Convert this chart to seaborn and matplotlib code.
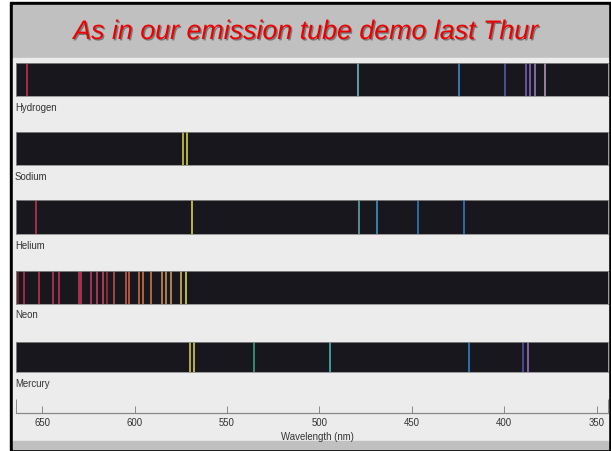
import numpy as np
import pandas as pd
import seaborn as sns
import matplotlib.pyplot as plt
import matplotlib.patheffects as pe
from matplotlib.patches import Rectangle

# =========================
# DATA (wavelengths in nm)
# =========================
elements = ["Hydrogen", "Sodium", "Helium", "Neon", "Mercury"]

hydrogen_nm = [658.1, 479.3, 424.3, 399.4, 388.2, 386.2, 383.4, 377.9]
hydrogen_colors = ["#c8324b", "#6fbcc4", "#3b8fcc", "#5a5cb4",
                   "#7a62b8", "#8a6cbc", "#9a80c4", "#b898c8"]

sodium_nm = [573.6, 571.9]
sodium_colors = ["#d8d23a", "#e0d848"]

helium_nm = [653.4, 569.0, 478.6, 469.0, 446.8, 421.9]
helium_colors = ["#c8324b", "#e0dc3c", "#5fa8b2", "#3b9ad0", "#2f82c4", "#2f7ec0"]

neon_nm = [663.1, 660.1, 651.5, 644.2, 640.9, 630.3, 628.8, 623.6, 620.4,
           617.1, 614.9, 610.9, 604.9, 602.8, 597.6, 595.6, 591.3, 585.2,
           583.2, 580.3, 574.9, 572.2]
neon_colors = ["#7a2030", "#c03050", "#c83452", "#c83452", "#c83452",
               "#c83a5a", "#c83a5a", "#c83a5a", "#c84058", "#c84858",
               "#a03040", "#c85048", "#d06040", "#d06840", "#d07040",
               "#d07848", "#d08048", "#d09050", "#d09858", "#c8a060",
               "#d8c060", "#e0e040"]

mercury_nm = [570.2, 568.0, 535.2, 494.5, 419.2, 390.0, 387.0]
mercury_colors = ["#d8d040", "#e0d848", "#3aa888", "#48bcbc", "#2e8ad2",
                  "#5a50b0", "#a070c0"]

tick_nm = [650, 600, 550, 500, 450, 400, 350]
x_range = (664.2, 344.0)

spectra = {
    "Hydrogen": (hydrogen_nm, hydrogen_colors),
    "Sodium": (sodium_nm, sodium_colors),
    "Helium": (helium_nm, helium_colors),
    "Neon": (neon_nm, neon_colors),
    "Mercury": (mercury_nm, mercury_colors),
}

# =========================
# STYLE
# =========================
sns.set_style("white")
plt.rcParams["font.family"] = ["Liberation Sans", "DejaVu Sans"]

W, H = 611, 452
fig = plt.figure(figsize=(W / 100, H / 100), dpi=100)
fig.patch.set_facecolor("white")


def px_rect(x0, y0, x1, y1):
    # pixel box (top-left origin) -> figure fraction
    return [x0 / W, 1 - y1 / H, (x1 - x0) / W, (y1 - y0) / H]


# slide frame (kept behind the axes)
fig.patches.append(Rectangle((10 / W, 0), 601 / W, 449 / H,
                             transform=fig.transFigure, color="black", zorder=-3))
fig.patches.append(Rectangle((13 / W, 1 - 59 / H), 595 / W, 53 / H,
                             transform=fig.transFigure, color="#c0c0c0", zorder=-2))
fig.patches.append(Rectangle((13 / W, 1 - 442 / H), 595 / W, 383 / H,
                             transform=fig.transFigure, color="#ececec", zorder=-2))
fig.patches.append(Rectangle((13 / W, 1 - 450 / H), 595 / W, 8 / H,
                             transform=fig.transFigure, color="#c0c0c0", zorder=-2))

fig.text(305 / W, 1 - 33 / H, "As in our emission tube demo last Thur",
         ha="center", va="center", fontsize=19.3, style="italic", color="#ee0000",
         path_effects=[pe.withSimplePatchShadow(offset=(1.0, -1.0),
                                                shadow_rgbFace="#333333", alpha=0.5)])

# =========================
# SPECTRUM BANDS
# =========================
bands_px = {
    "Hydrogen": (64.3, 96.7),
    "Sodium": (132.7, 165.7),
    "Helium": (201.3, 235.0),
    "Neon": (272.0, 304.5),
    "Mercury": (342.7, 373.3),
}

for name in elements:
    top, bot = bands_px[name]
    ax = fig.add_axes(px_rect(16, top, 607.7, bot))
    ax.set_facecolor("#17171d")
    nm, cols = spectra[name]
    df = pd.DataFrame({"nm": nm, "color": cols})
    sns.rugplot(data=df, x="nm", hue="color", palette={c: c for c in cols},
                height=1, linewidth=1.2, alpha=0.95, legend=False,
                expand_margins=False, ax=ax)
    ax.set_xlim(*x_range)
    ax.set_ylim(0, 1)
    ax.set_xticks([])
    ax.set_yticks([])
    ax.set_xlabel("")
    for s in ax.spines.values():
        s.set_color("#8a8a8a")
        s.set_linewidth(0.6)
    fig.text(15 / W, 1 - (bot + 11) / H, name, ha="left", va="center",
             fontsize=6.9, color="#333333")

# =========================
# WAVELENGTH AXIS
# =========================
axx = fig.add_axes(px_rect(16, 395, 607.7, 414))
axx.patch.set_alpha(0)
axx.set_xlim(*x_range)
axx.set_yticks([])
sns.despine(ax=axx, left=True, right=True, top=True)
axx.spines["bottom"].set_color("#888888")
axx.spines["bottom"].set_linewidth(0.9)
axx.set_xticks(tick_nm)
axx.set_xticklabels([str(t) for t in tick_nm], fontsize=6.9, color="#333333")
axx.set_xticks(list(x_range), minor=True)
axx.tick_params(axis="x", which="major", direction="in", length=5, width=0.7,
                color="#888888", pad=3, bottom=True)
axx.tick_params(axis="x", which="minor", direction="in", length=10, width=0.7,
                color="#888888", bottom=True)
axx.set_xlabel("Wavelength (nm)", fontsize=6.9, color="#333333", labelpad=0)
axx.xaxis.set_label_coords(0.51, -0.95)

fig.savefig("out.png", dpi=100, facecolor=fig.get_facecolor())
